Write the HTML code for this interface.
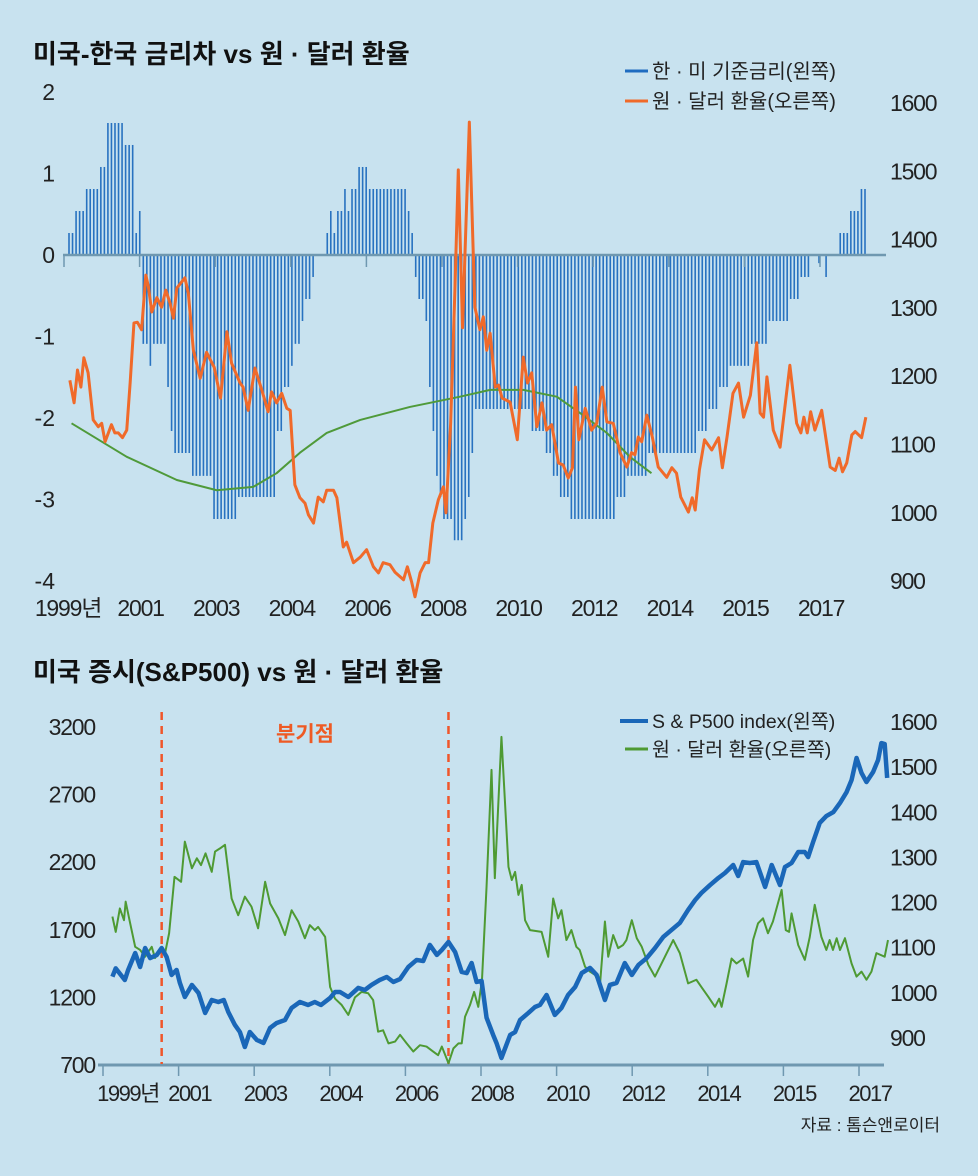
<!DOCTYPE html>
<html><head><meta charset="utf-8">
<style>
html,body{margin:0;padding:0;background:#c8e2ef;}
svg{display:block;}
text{font-family:"Liberation Sans","Noto Sans CJK KR",sans-serif;}
</style></head>
<body>
<svg id="chart" width="978" height="1176" viewBox="0 0 978 1176" xmlns="http://www.w3.org/2000/svg">
<rect x="0" y="0" width="978" height="1176" fill="#c8e2ef"/>
<text x="33" y="63" font-size="26" font-weight="bold" fill="#111">미국-한국 금리차 vs 원 · 달러 환율</text>
<text x="33" y="681" font-size="26" font-weight="bold" fill="#111">미국 증시(S&amp;P500) vs 원 · 달러 환율</text>
<g id="topchart"></g>
<g id="botchart"></g>
<g>
<line x1="625" y1="71" x2="648" y2="71" stroke="#1f6cc0" stroke-width="3"/>
<text x="652" y="78" font-size="20" fill="#222">한 · 미 기준금리(왼쪽)</text>
<line x1="625" y1="101" x2="648" y2="101" stroke="#f06a2a" stroke-width="3"/>
<text x="652" y="108" font-size="20" fill="#222">원 · 달러 환율(오른쪽)</text>
</g>
<g>
<line x1="620" y1="721" x2="648" y2="721" stroke="#1a67b8" stroke-width="4"/>
<text x="652" y="728" font-size="19.5" fill="#222">S &amp; P500 index(왼쪽)</text>
<line x1="625" y1="749" x2="648" y2="749" stroke="#4e9a33" stroke-width="3"/>
<text x="652" y="756" font-size="19.5" fill="#222">원 · 달러 환율(오른쪽)</text>
</g>
<text x="305" y="741" font-size="21" font-weight="bold" fill="#ee5a24" text-anchor="middle">분기점</text>
<text x="940" y="1131" font-size="17" fill="#222" text-anchor="end">자료 : 톰슨앤로이터</text>
</svg>
<script>
// ---------- TOP CHART DATA ----------
const rateRuns = [[0.27,2],[0.54,3],[0.81,4],[1.08,2],[1.62,5],[1.35,3],[0.27,1],[0.54,1],
 [-1.09,2],[-1.36,1],[-1.09,4],[-1.62,1],[-2.16,1],[-2.43,5],[-2.71,6],[-3.24,7],[-2.97,11],[-2.16,2],[-1.62,2],[-1.36,1],[-1.09,2],[-0.81,1],[-0.54,2],[-0.27,1],
 [0,3],
 [0.27,1],[0.54,1],[0.27,1],[0.54,2],[0.81,1],[0.54,1],[0.81,2],[1.08,3],[0.81,11],[0.54,1],[0.27,1],
 [-0.27,1],[-0.54,2],[-0.81,1],[-1.62,1],[-2.16,1],[-2.71,1],[-2.97,1],[-3.24,3],[-3.5,3],[-3.24,1],[-2.97,1],[-2.43,1],
 [-1.89,16],[-2.16,4],[-2.43,2],[-2.71,2],[-2.97,3],[-3.24,13],[-2.97,3],[-2.71,6],[-2.43,14],[-2.16,3],[-1.89,3],[-1.62,3],[-1.36,6],[-1.09,5],[-0.81,6],[-0.54,3],[-0.27,3],
 [0,2],[-0.1,1],[0,1],[-0.27,1],[0,3],[0.27,3],[0.54,3],[0.81,2]];
const krwYears = [1999.02,1999.12,1999.2,1999.28,1999.35,1999.45,1999.57,1999.69,1999.77,1999.85,2000.0,2000.08,2000.16,2000.26,2000.36,2000.44,2000.53,2000.61,2000.71,2000.81,2000.87,2000.95,2001.07,2001.18,2001.28,2001.38,2001.46,2001.54,2001.73,2001.81,2001.93,2002.09,2002.24,2002.42,2002.57,2002.72,2002.83,2003.03,2003.1,2003.22,2003.38,2003.54,2003.69,2003.77,2003.89,2004.01,2004.13,2004.21,2004.32,2004.44,2004.56,2004.64,2004.76,2004.87,2004.99,2005.07,2005.23,2005.31,2005.46,2005.54,2005.7,2005.86,2006.01,2006.17,2006.29,2006.4,2006.56,2006.68,2006.88,2006.97,2007.07,2007.15,2007.27,2007.39,2007.47,2007.57,2007.7,2007.82,2007.88,2007.99,2008.09,2008.17,2008.27,2008.43,2008.56,2008.68,2008.76,2008.84,2008.92,2009.04,2009.12,2009.2,2009.39,2009.56,2009.7,2009.8,2009.9,2010.02,2010.14,2010.25,2010.37,2010.53,2010.64,2010.76,2010.86,2010.93,2011.01,2011.16,2011.31,2011.43,2011.56,2011.67,2011.82,2011.98,2012.14,2012.25,2012.33,2012.41,2012.49,2012.61,2012.74,2012.88,2013.08,2013.2,2013.31,2013.41,2013.59,2013.68,2013.75,2013.85,2013.97,2014.14,2014.3,2014.39,2014.5,2014.64,2014.77,2014.89,2015.05,2015.2,2015.28,2015.36,2015.44,2015.59,2015.75,2015.98,2016.14,2016.24,2016.31,2016.39,2016.47,2016.57,2016.73,2016.93,2017.05,2017.14,2017.22,2017.32,2017.44,2017.52,2017.67,2017.77];
const krwValues = [1194,1161,1209,1184,1227,1205,1136,1126,1131,1104,1129,1117,1117,1110,1121,1190,1278,1279,1268,1348,1331,1294,1315,1301,1326,1307,1285,1329,1344,1322,1238,1197,1235,1213,1168,1265,1219,1190,1184,1150,1212,1180,1148,1177,1161,1175,1153,1150,1041,1022,1014,997,985,1023,1016,1033,1033,1022,950,957,927,935,946,921,912,927,924,913,902,921,899,877,912,927,927,985,1019,1038,1000,1131,1326,1502,1271,1572,1301,1268,1287,1238,1263,1184,1187,1168,1162,1107,1228,1190,1205,1126,1161,1121,1129,1073,1070,1051,1066,1184,1107,1153,1121,1131,1184,1133,1131,1088,1067,1088,1085,1111,1104,1143,1111,1067,1052,1066,1058,1023,1001,1022,1004,1063,1107,1092,1110,1066,1111,1175,1190,1140,1172,1249,1146,1140,1199,1121,1096,1216,1131,1117,1140,1117,1148,1121,1150,1067,1062,1080,1060,1073,1114,1119,1110,1140];
const trendYears = [1999.06,2000.36,2001.54,2002.48,2003.34,2003.89,2004.44,2005.07,2005.86,2007.03,2008.21,2008.92,2009.7,2010.49,2011.04,2011.67,2012.21,2012.72];
const trendValues = [1131,1082,1048,1033,1038,1058,1088,1117,1136,1155,1170,1180,1180,1170,1146,1117,1082,1058];
const topLeftTicks = [2,1,0,-1,-2,-3,-4];
const topRightTicks = [1600,1500,1400,1300,1200,1100,1000,900];
const xLabels = ["1999년","2001","2003","2004","2006","2008","2010","2012","2014","2015","2017"];

// ---------- BOTTOM CHART DATA ----------
const spYears = [1999.01,1999.09,1999.31,1999.39,1999.56,1999.68,1999.8,1999.92,2000.08,2000.2,2000.32,2000.44,2000.56,2000.64,2000.76,2000.93,2001.09,2001.25,2001.41,2001.57,2001.7,2001.81,2001.97,2002.09,2002.21,2002.33,2002.5,2002.66,2002.82,2002.98,2003.18,2003.34,2003.54,2003.74,2003.9,2004.05,2004.27,2004.39,2004.51,2004.71,2004.95,2005.11,2005.27,2005.47,2005.64,2005.8,2005.96,2006.16,2006.36,2006.52,2006.68,2006.85,2006.97,2007.13,2007.29,2007.45,2007.57,2007.69,2007.81,2007.93,2008.05,2008.21,2008.29,2008.41,2008.62,2008.74,2008.86,2009.06,2009.22,2009.34,2009.5,2009.7,2009.86,2010.02,2010.19,2010.35,2010.55,2010.71,2010.91,2011.03,2011.19,2011.39,2011.56,2011.72,2011.92,2012.12,2012.32,2012.52,2012.72,2012.92,2013.09,2013.24,2013.45,2013.65,2013.81,2014.01,2014.13,2014.25,2014.41,2014.57,2014.78,2014.94,2015.14,2015.26,2015.42,2015.58,2015.74,2015.82,2015.94,2016.1,2016.26,2016.43,2016.59,2016.75,2016.87,2016.99,2017.11,2017.23,2017.39,2017.51,2017.59,2017.67,2017.73];
const spValues = [1353,1415,1329,1403,1528,1425,1565,1491,1513,1565,1499,1366,1403,1307,1203,1292,1233,1085,1181,1166,1181,1092,996,944,833,944,885,863,974,1011,1033,1122,1166,1144,1166,1144,1196,1240,1240,1203,1270,1255,1292,1329,1351,1314,1336,1425,1477,1469,1588,1514,1551,1610,1536,1388,1380,1454,1314,1322,1050,922,863,752,922,944,1033,1085,1129,1144,1218,1070,1122,1218,1277,1380,1418,1366,1181,1292,1307,1454,1366,1440,1491,1565,1647,1699,1751,1847,1920,1972,2031,2083,2120,2179,2098,2201,2194,2201,2017,2179,2031,2164,2194,2275,2275,2238,2349,2490,2541,2571,2638,2719,2808,2971,2860,2793,2867,2956,3081,3074,2823];
const krw2Years = [1999.01,1999.09,1999.19,1999.29,1999.33,1999.43,1999.56,1999.68,1999.8,1999.96,2000.04,2000.16,2000.28,2000.38,2000.51,2000.67,2000.76,2000.93,2001.05,2001.15,2001.26,2001.41,2001.49,2001.61,2001.73,2001.89,2002.05,2002.21,2002.37,2002.53,2002.7,2002.82,2003.02,2003.18,2003.34,2003.5,2003.66,2003.78,2003.9,2003.98,2004.15,2004.27,2004.39,2004.55,2004.71,2004.87,2005.03,2005.19,2005.31,2005.43,2005.55,2005.68,2005.84,2005.96,2006.12,2006.28,2006.44,2006.6,2006.76,2006.88,2006.97,2007.13,2007.25,2007.37,2007.45,2007.53,2007.65,2007.75,2007.85,2007.94,2008.05,2008.17,2008.25,2008.41,2008.58,2008.66,2008.74,2008.82,2008.9,2008.98,2009.1,2009.38,2009.54,2009.66,2009.78,2009.86,2009.98,2010.1,2010.22,2010.3,2010.43,2010.55,2010.67,2010.79,2010.91,2010.99,2011.11,2011.23,2011.35,2011.43,2011.56,2011.68,2011.8,2011.96,2012.12,2012.24,2012.36,2012.56,2012.72,2012.92,2013.12,2013.24,2013.41,2013.57,2013.67,2013.73,2013.85,2013.97,2014.09,2014.25,2014.37,2014.49,2014.61,2014.73,2014.85,2014.97,2015.18,2015.28,2015.36,2015.42,2015.58,2015.74,2015.86,2015.98,2016.14,2016.26,2016.34,2016.42,2016.51,2016.59,2016.71,2016.87,2016.99,2017.11,2017.23,2017.35,2017.47,2017.67,2017.75];
const krw2Values = [1169,1135,1187,1161,1202,1158,1102,1095,1080,1102,1077,1095,1087,1132,1257,1246,1335,1276,1298,1283,1309,1268,1313,1320,1328,1209,1172,1213,1191,1143,1246,1198,1165,1128,1183,1158,1121,1150,1139,1146,1124,1013,987,973,951,990,1002,999,984,914,917,888,892,907,888,870,884,881,870,862,881,844,877,888,888,947,973,1002,969,1029,1235,1494,1254,1567,1279,1250,1268,1217,1239,1161,1139,1135,1080,1209,1165,1183,1117,1139,1102,1095,1058,1047,1040,1017,1158,1080,1128,1099,1106,1117,1161,1121,1102,1062,1036,1058,1080,1117,1088,1021,1029,1013,991,969,987,969,1021,1076,1065,1076,1036,1117,1154,1165,1132,1158,1228,1139,1135,1176,1106,1073,1124,1195,1124,1095,1117,1095,1121,1095,1121,1065,1036,1047,1029,1047,1088,1080,1117];
const botLeftTicks = [3200,2700,2200,1700,1200,700];
const botRightTicks = [1600,1500,1400,1300,1200,1100,1000,900];
const dividerYears = [2000.2,2007.13];

const NS = "http://www.w3.org/2000/svg";
function mk(parent, tag, attrs, txt){
  const e = document.createElementNS(NS, tag);
  for (const k in attrs) e.setAttribute(k, attrs[k]);
  if (txt !== undefined) e.textContent = txt;
  parent.appendChild(e);
  return e;
}
const Y0 = 1999, Y1 = 2017.75;
const tx = y => 69 + (y - Y0) / (Y1 - Y0) * 796;
const tyL = v => 255 - v * 81.5;
const tyR = v => 103 + (1600 - v) * 0.683;
const bx = y => 112 + (y - Y0) / (Y1 - Y0) * 776;
const byL = v => 1065 - (v - 700) * 0.1352;
const byR = v => 722 + (1600 - v) * 0.4514;

const topG = document.getElementById('topchart');
const botG = document.getElementById('botchart');

const rates = [];
rateRuns.forEach(r => { for (let i = 0; i < r[1]; i++) rates.push(r[0]); });
rates.forEach((v, i) => {
  if (v === 0) return;
  const yr = Y0 + i * (Y1 - Y0) / (rates.length - 1);
  const b = mk(topG, 'line', {x1: tx(yr), x2: tx(yr), y1: tyL(0), y2: tyL(v), stroke: '#2872c0', 'stroke-width': 1.6});
  
  
});
const zl = mk(topG, 'line', {x1: 63, x2: 886, y1: tyL(0), y2: tyL(0), stroke: '#6f98b0', 'stroke-width': 2.5});


xLabels.forEach((l, i) => {
  const x = 64 + i * 75.6;
  const t = mk(topG, 'line', {x1: x, x2: x, y1: 255, y2: 267, stroke: '#6f98b0', 'stroke-width': 1.5});
  
  
  const lb = mk(topG, 'text', {x: i === 0 ? 68 : x + 1, y: 616, 'font-size': 23, 'letter-spacing': -1.2, 'text-anchor': 'middle', fill: '#222'}, l);
  
  
});
topLeftTicks.forEach(v => {
  const t = mk(topG, 'text', {x: 55, y: tyL(v) + 8, 'font-size': 23, 'text-anchor': 'end', fill: '#222'}, String(v));
  
  
});
topRightTicks.forEach(v => {
  const t = mk(topG, 'text', {x: 890, y: tyR(v) + 8, 'font-size': 23, 'letter-spacing': -1.2, fill: '#222'}, String(v));
  
  
});
const tr = mk(topG, 'polyline', {points: trendYears.map((y, i) => tx(y) + ',' + tyR(trendValues[i])).join(' '), fill: 'none', stroke: '#4f9a3a', 'stroke-width': 2, 'stroke-linejoin': 'round'});


const kl = mk(topG, 'polyline', {points: krwYears.map((y, i) => tx(y) + ',' + tyR(krwValues[i])).join(' '), fill: 'none', stroke: '#f06a2a', 'stroke-width': 3, 'stroke-linejoin': 'round'});



const al = mk(botG, 'line', {x1: 98, x2: 884, y1: 1065, y2: 1065, stroke: '#6f98b0', 'stroke-width': 3});


xLabels.forEach((l, i) => {
  const x = 103 + i * 75.6;
  const t = mk(botG, 'line', {x1: x, x2: x, y1: 1065, y2: 1076, stroke: '#6f98b0', 'stroke-width': 1.5});
  
  
  const lb = mk(botG, 'text', {x: i === 0 ? 128 : x + 11, y: 1101, 'font-size': 22, 'letter-spacing': -1.5, 'text-anchor': 'middle', fill: '#222'}, l);
  
  
});
botLeftTicks.forEach(v => {
  const t = mk(botG, 'text', {x: 95, y: byL(v) + 8, 'font-size': 23, 'letter-spacing': -1.2, 'text-anchor': 'end', fill: '#222'}, String(v));
  
  
});
botRightTicks.forEach(v => {
  const t = mk(botG, 'text', {x: 890, y: byR(v) + 8, 'font-size': 23, 'letter-spacing': -1.2, fill: '#222'}, String(v));
  
  
});
dividerYears.forEach(y => {
  const d = mk(botG, 'line', {x1: bx(y), x2: bx(y), y1: 712, y2: 1064, stroke: '#f0562a', 'stroke-width': 2.5, 'stroke-dasharray': '8,6'});
  
  
});
const g2 = mk(botG, 'polyline', {points: krw2Years.map((y, i) => bx(y) + ',' + byR(krw2Values[i])).join(' '), fill: 'none', stroke: '#4e9a33', 'stroke-width': 2, 'stroke-linejoin': 'round'});


const sp = mk(botG, 'polyline', {points: spYears.map((y, i) => bx(y) + ',' + byL(spValues[i])).join(' '), fill: 'none', stroke: '#1a67b8', 'stroke-width': 4.5, 'stroke-linejoin': 'round'});


</script>
</body></html>
